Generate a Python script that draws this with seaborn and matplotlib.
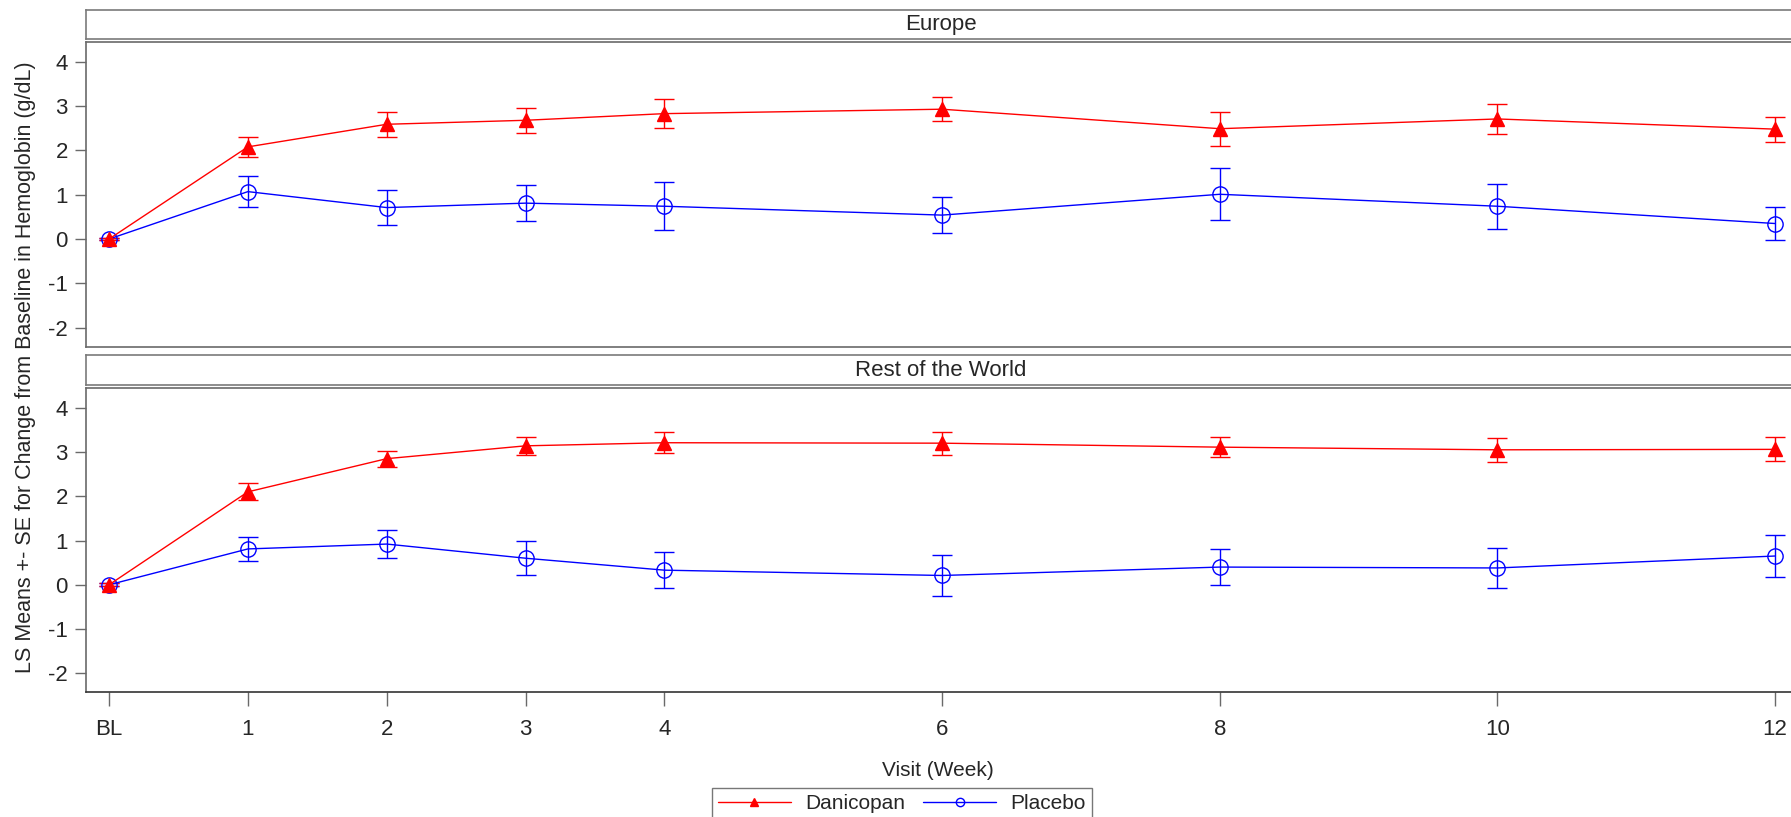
import numpy as np
import pandas as pd
import matplotlib
matplotlib.use('Agg')
import matplotlib.pyplot as plt
import seaborn as sns
from matplotlib.lines import Line2D

sns.set_style('white')
plt.rcParams['font.family'] = ['Liberation Sans', 'DejaVu Sans']

# visit weeks (BL = 0) and tick labels
weeks = [0, 1, 2, 3, 4, 6, 8, 10, 12]
week_labels = ['BL', '1', '2', '3', '4', '6', '8', '10', '12']
regions = ['Europe', 'Rest of the World']

# LS means and SE
eu_dan_mean = [0.0, 2.08, 2.59, 2.68, 2.83, 2.93, 2.49, 2.71, 2.48]
eu_dan_se = [0.03, 0.23, 0.28, 0.28, 0.33, 0.27, 0.38, 0.34, 0.28]
eu_pla_mean = [0.0, 1.07, 0.71, 0.81, 0.74, 0.54, 1.01, 0.74, 0.35]
eu_pla_se = [0.03, 0.35, 0.40, 0.40, 0.54, 0.40, 0.59, 0.51, 0.38]

row_dan_mean = [0.0, 2.10, 2.85, 3.14, 3.21, 3.20, 3.11, 3.05, 3.06]
row_dan_se = [0.03, 0.19, 0.18, 0.21, 0.24, 0.26, 0.22, 0.27, 0.27]
row_pla_mean = [0.0, 0.81, 0.92, 0.60, 0.33, 0.21, 0.40, 0.38, 0.65]
row_pla_se = [0.03, 0.27, 0.31, 0.38, 0.41, 0.46, 0.40, 0.45, 0.47]

arms = {
    'Danicopan': dict(color='red', marker='^', mfc='red', ms=10),
    'Placebo': dict(color='blue', marker='o', mfc='none', ms=11),
}

rows = []
for region, dm, ds, pm, ps in [('Europe', eu_dan_mean, eu_dan_se, eu_pla_mean, eu_pla_se),
                                ('Rest of the World', row_dan_mean, row_dan_se, row_pla_mean, row_pla_se)]:
    for arm, m, s in [('Danicopan', dm, ds), ('Placebo', pm, ps)]:
        for w, mv, sv in zip(weeks, m, s):
            rows.append({'region': region, 'arm': arm, 'week': w, 'mean': mv, 'se': sv})
df = pd.DataFrame(rows)

fig = plt.figure(figsize=(17.91, 8.17), dpi=100)

# panel runs slightly past the right edge of the picture, as in the original
left = 86 / 1791
width = (1796 - 86) / 1791
panel_pos = [(1 - 346.7 / 817, 304.4 / 817), (1 - 692.3 / 817, 304.0 / 817)]
strip_pos = [(1 - 39.3 / 817, 29.6 / 817), (1 - 385 / 817, 30 / 817)]

frame_col = '#6a6a6a'

for i, region in enumerate(regions):
    ax = fig.add_axes([left, panel_pos[i][0], width, panel_pos[i][1]])
    sub = df[df['region'] == region]
    for arm in ['Placebo', 'Danicopan']:
        d = sub[sub['arm'] == arm]
        st = arms[arm]
        ax.errorbar(d['week'], d['mean'], yerr=d['se'], fmt='none', ecolor=st['color'],
                    elinewidth=1.0, capsize=7, capthick=1.0, zorder=2)
        sns.lineplot(data=d, x='week', y='mean', ax=ax, color=st['color'], marker=st['marker'],
                     markersize=st['ms'], markerfacecolor=st['mfc'], markeredgecolor=st['color'],
                     markeredgewidth=1.0, linewidth=1.0, legend=False, zorder=3)
    ax.set_xlim(-0.166, 12.15)
    ax.set_ylim(-2.43, 4.44)
    ax.set_yticks([-2, -1, 0, 1, 2, 3, 4])
    ax.set_yticklabels(['-2', '-1', '0', '1', '2', '3', '4'], fontsize=16)
    ax.set_xlabel('')
    ax.set_ylabel('')
    ax.tick_params(axis='y', direction='out', length=8, width=1, color=frame_col, pad=5, left=True)
    for sp in ['top', 'left', 'bottom', 'right']:
        ax.spines[sp].set_color(frame_col)
        ax.spines[sp].set_linewidth(1.2)
    if i == 0:
        ax.set_xticks([])
    else:
        ax.spines['bottom'].set_color('#333333')
        ax.set_xticks(weeks)
        ax.set_xticklabels(week_labels, fontsize=16)
        ax.tick_params(axis='x', direction='out', length=10, width=1, color=frame_col,
                       pad=9, bottom=True)

    sax = fig.add_axes([left, strip_pos[i][0], width, strip_pos[i][1]])
    sax.set_xticks([])
    sax.set_yticks([])
    for sp in ['top', 'left', 'bottom', 'right']:
        sax.spines[sp].set_color('#7a7a7a')
        sax.spines[sp].set_linewidth(1.2)
    sax.text(0.5, 0.5, region, ha='center', va='center', fontsize=16, transform=sax.transAxes)

fig.text(0.014, 1 - 367 / 817, 'LS Means +- SE for Change from Baseline in Hemoglobin (g/dL)',
         rotation=90, ha='center', va='center', fontsize=15.5)
fig.text(938 / 1791, 1 - 771 / 817, 'Visit (Week)', ha='center', va='center', fontsize=15)

handles = [Line2D([0], [0], color='red', marker='^', markersize=6, markerfacecolor='red', lw=1.0),
           Line2D([0], [0], color='blue', marker='o', markersize=6, markerfacecolor='none', lw=1.0)]
leg = fig.legend(handles, ['Danicopan', 'Placebo'], loc='upper center',
                 bbox_to_anchor=(902 / 1791, 1 - 788 / 817), ncol=2, fontsize=15, frameon=True,
                 fancybox=False, edgecolor='#555555', handlelength=3.5, handletextpad=0.7,
                 columnspacing=0.85, borderpad=0.3, borderaxespad=0)
leg.get_frame().set_linewidth(1.0)

fig.savefig('out.png', dpi=100)
